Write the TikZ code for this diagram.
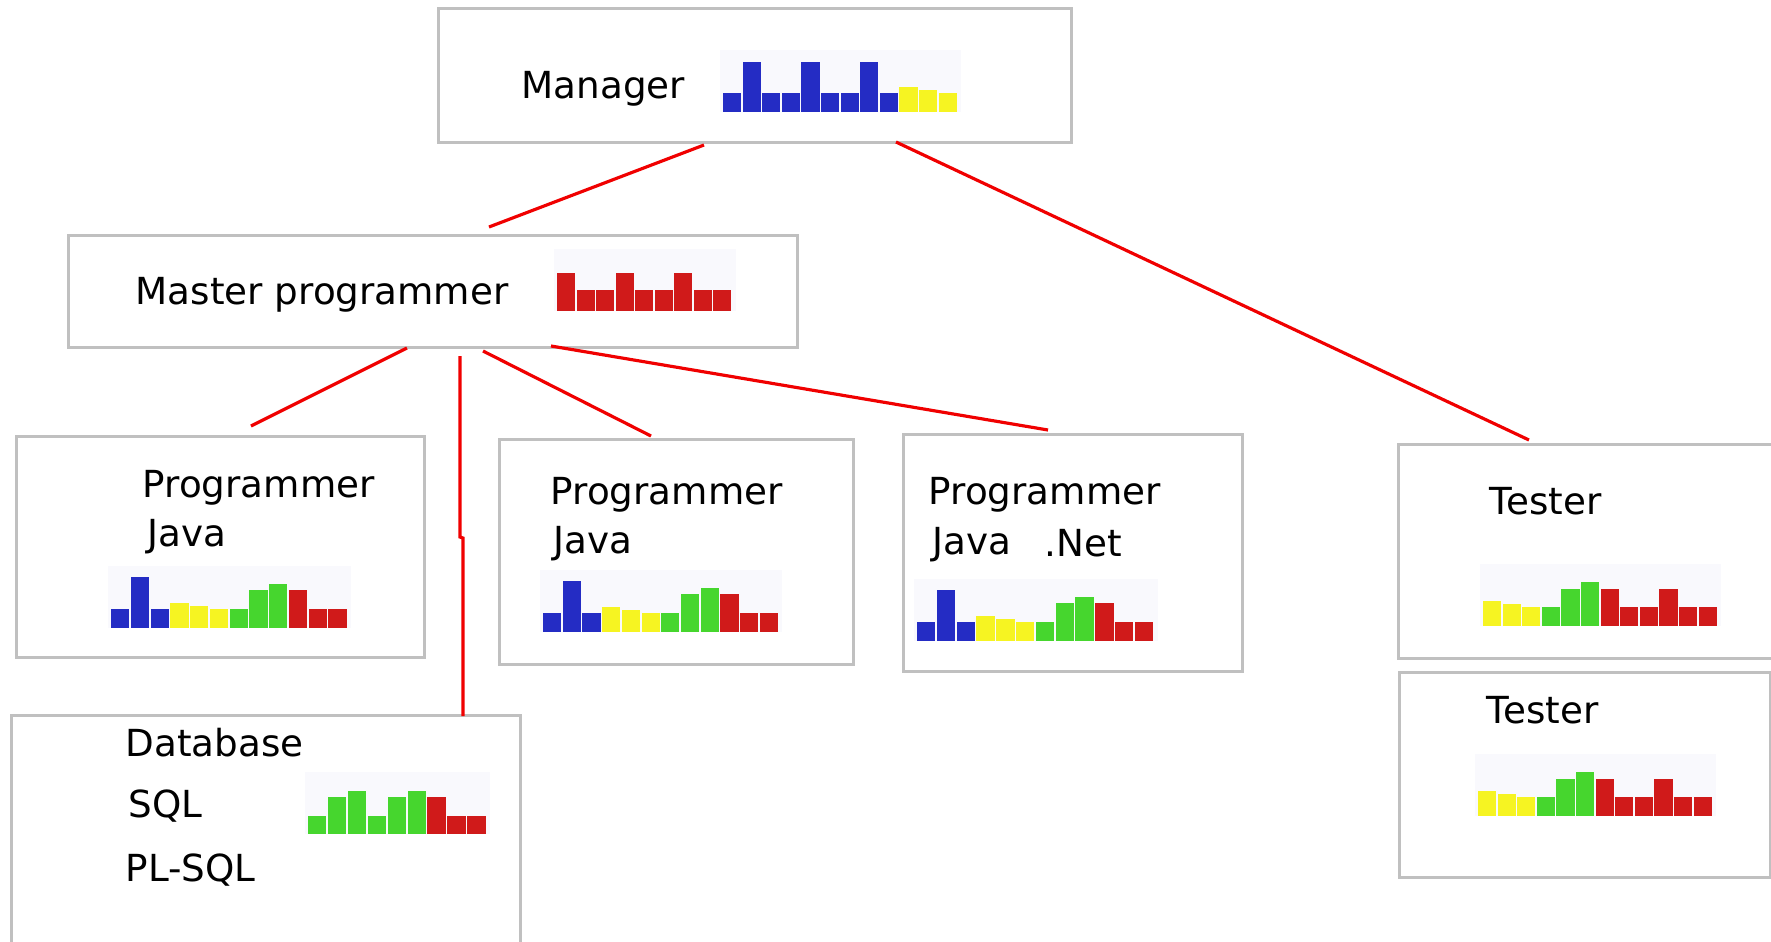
\documentclass[tikz,border=0pt]{standalone}
\usepackage{fontspec}
\setmainfont{DejaVu Sans}
\definecolor{boxgray}{RGB}{192,192,192}
\definecolor{linkred}{RGB}{240,0,0}
\definecolor{bb}{RGB}{36,44,196}
\definecolor{yy}{RGB}{246,244,34}
\definecolor{gg}{RGB}{70,214,46}
\definecolor{rr}{RGB}{208,26,26}
\definecolor{panel}{RGB}{249,249,253}
\newcommand{\barchart}[5]{%
	\fill[panel] ({#1-3},#2) rectangle ({#1+#4*#3+3},{#2-62});
	\foreach \c/\h [count=\i from 0] in {#5}
		\fill[\c] ({#1+\i*#3},#2) rectangle ++({#3-1.5},{-\h});
}

\begin{document}
\begin{tikzpicture}[x=0.01cm,y=-0.01cm,
		box/.style={draw=boxgray, line width=0.85pt, rectangle, inner sep=0pt},
		lbl/.style={font=\fontsize{10.6}{12}\selectfont, inner sep=0pt, anchor=base west},
		link/.style={draw=linkred, line width=0.9pt}]
	\useasboundingbox[fill=white] (0,0) rectangle (1771,942);

	\node[box, minimum width=6.32cm, minimum height=1.33cm] (mgr) at (755,75.5) {};
	\node[box, minimum width=7.28cm, minimum height=1.11cm] (mast) at (433,291.5) {};
	\node[box, minimum width=4.07cm, minimum height=2.20cm] (prog1) at (220.5,547) {};
	\node[box, minimum width=3.53cm, minimum height=2.24cm] (prog2) at (676.5,552) {};
	\node[box, minimum width=3.38cm, minimum height=2.36cm] (prog3) at (1073,553) {};
	\node[box, minimum width=3.76cm, minimum height=2.13cm] (test1) at (1587,551.5) {};
	\node[box, minimum width=3.70cm, minimum height=2.04cm] (test2) at (1585,775) {};
	\node[box, minimum width=5.08cm, minimum height=2.40cm] (db) at (266,836) {};

	\node[lbl] (mgr-t) at (521,98) {Manager};
	\node[lbl] (mast-t) at (135,304) {Master programmer};
	\node[lbl] (prog1-t) at (142,497) {Programmer};
	\node[lbl] (prog1-j) at (147,546) {Java};
	\node[lbl] (prog2-t) at (550,504) {Programmer};
	\node[lbl] (prog2-j) at (553,553) {Java};
	\node[lbl] (prog3-t) at (928,504) {Programmer};
	\node[lbl] (prog3-j) at (932,554) {Java};
	\node[lbl] (prog3-n) at (1044,556) {.Net};
	\node[lbl] (test1-t) at (1489,514) {Tester};
	\node[lbl] (test2-t) at (1486,723) {Tester};
	\node[lbl] (db-t) at (125,756) {Database};
	\node[lbl] (db-s) at (128,817) {SQL};
	\node[lbl] (db-p) at (125,881) {PL-SQL};

	\barchart{723}{112}{19.6}{12}{bb/19,bb/50,bb/19,bb/19,bb/50,bb/19,bb/19,bb/50,bb/19,yy/25,yy/22,yy/19}
	\barchart{557}{311}{19.55}{9}{rr/38,rr/21,rr/21,rr/38,rr/21,rr/21,rr/38,rr/21,rr/21}
	\foreach \x/\y/\w in {111/628/19.75, 543/632/19.7, 917/641/19.8}{
		\barchart{\x}{\y}{\w}{12}{bb/19,bb/51,bb/19,yy/25,yy/22,yy/19,gg/19,gg/38,gg/44,rr/38,rr/19,rr/19}
	}
	\foreach \x/\y in {1483/626, 1478/816}{
		\barchart{\x}{\y}{19.6}{12}{yy/25,yy/22,yy/19,gg/19,gg/37,gg/44,rr/37,rr/19,rr/19,rr/37,rr/19,rr/19}
	}
	\barchart{308}{834}{19.9}{9}{gg/18,gg/37,gg/43,gg/18,gg/37,gg/43,rr/37,rr/18,rr/18}

	\coordinate (mgr-a) at (704,145);
	\coordinate (mgr-b) at (896,142);
	\coordinate (mast-in) at (489,227);
	\coordinate (test1-in) at (1529,440);
	\coordinate (mast-a) at (407,348);
	\coordinate (mast-b) at (460,356);
	\coordinate (mast-c) at (483,351);
	\coordinate (mast-d) at (551,346);
	\coordinate (prog1-in) at (251,426);
	\coordinate (db-in) at (463,716);
	\coordinate (prog2-in) at (651,436);
	\coordinate (prog3-in) at (1048,430);

	\draw[link] (mgr-a) -- (mast-in);
	\draw[link] (mgr-b) -- (test1-in);
	\draw[link] (mast-a) -- (prog1-in);
	\draw[link] (mast-b) -- ++(0,181) -- ++(3,1) -- (db-in);
	\draw[link] (mast-c) -- (prog2-in);
	\draw[link] (mast-d) -- (prog3-in);
\end{tikzpicture}
\end{document}
